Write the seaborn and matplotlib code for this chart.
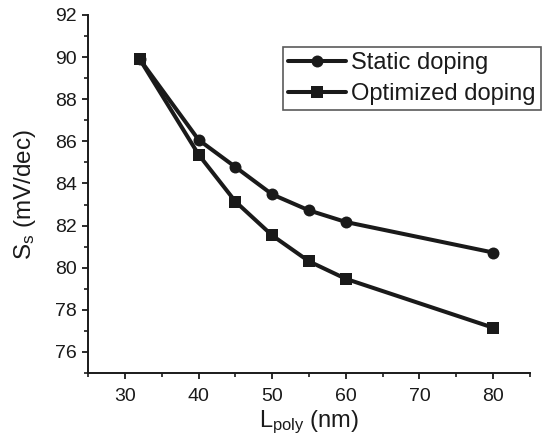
import matplotlib
matplotlib.use("Agg")
import matplotlib.pyplot as plt
from matplotlib.ticker import MultipleLocator
import numpy as np
import pandas as pd
import seaborn as sns

# Gate poly length (nm) and subthreshold swing (mV/dec)
l_poly = [32, 40, 45, 50, 55, 60, 80]
ss_static = [89.9, 86.07, 84.78, 83.48, 82.72, 82.17, 80.72]
ss_optimized = [89.9, 85.37, 83.14, 81.53, 80.30, 79.47, 77.15]
series_names = ["Static doping", "Optimized doping"]

df = pd.DataFrame({
    "L": l_poly * 2,
    "S": ss_static + ss_optimized,
    "series": [series_names[0]] * len(l_poly) + [series_names[1]] * len(l_poly),
})

sns.set_theme(style="ticks")
plt.rcParams["font.family"] = ["Liberation Sans", "DejaVu Sans"]
plt.rcParams["mathtext.fontset"] = "custom"
plt.rcParams["mathtext.rm"] = "Liberation Sans"
plt.rcParams["mathtext.it"] = "Liberation Sans:italic"

ink = "#1a1a1a"
fig = plt.figure(figsize=(5.42, 4.38), dpi=100)
ax = fig.add_axes([0.1627, 0.1484, 0.815, 0.8174])

sns.lineplot(
    data=df, x="L", y="S", hue="series", style="series",
    hue_order=series_names, style_order=series_names,
    palette=[ink, ink], markers={series_names[0]: "o", series_names[1]: "s"},
    dashes=False, linewidth=2.9, markersize=8.6, markeredgewidth=0,
    ax=ax, legend=True,
)

ax.set_xlim(25, 85)
ax.set_ylim(75, 92)
ax.xaxis.set_major_locator(MultipleLocator(10))
ax.xaxis.set_minor_locator(MultipleLocator(5))
ax.yaxis.set_major_locator(MultipleLocator(2))
ax.yaxis.set_minor_locator(MultipleLocator(1))
ax.set_xticks(np.arange(30, 81, 10))

for side in ("top", "right"):
    ax.spines[side].set_visible(False)
for side in ("left", "bottom"):
    ax.spines[side].set_linewidth(1.4)
    ax.spines[side].set_color(ink)

ax.tick_params(which="major", direction="out", length=4.6, width=1.3, color=ink,
               labelsize=14, labelcolor=ink)
ax.tick_params(which="minor", direction="out", length=3, width=1.2, color=ink)
ax.tick_params(axis="x", which="major", pad=6)
ax.tick_params(axis="y", which="major", pad=3.5)

ax.set_xlabel(r"L$_{\mathrm{poly}}$ (nm)", fontsize=17, color=ink, labelpad=2.5)
ax.set_ylabel(r"S$_{\mathrm{s}}$ (mV/dec)", fontsize=17.5, color=ink, labelpad=12)

leg = ax.legend(
    loc="upper left", bbox_to_anchor=(0.440, 0.9115), fontsize=17,
    frameon=True, fancybox=False, framealpha=1, edgecolor="#5a5a5a",
    handlelength=2.45, handletextpad=0.25, labelspacing=0.38, borderpad=0.22,
    borderaxespad=0,
)
leg.get_frame().set_linewidth(1.2)
for t in leg.get_texts():
    t.set_color(ink)

fig.savefig("out.png", dpi=100)
